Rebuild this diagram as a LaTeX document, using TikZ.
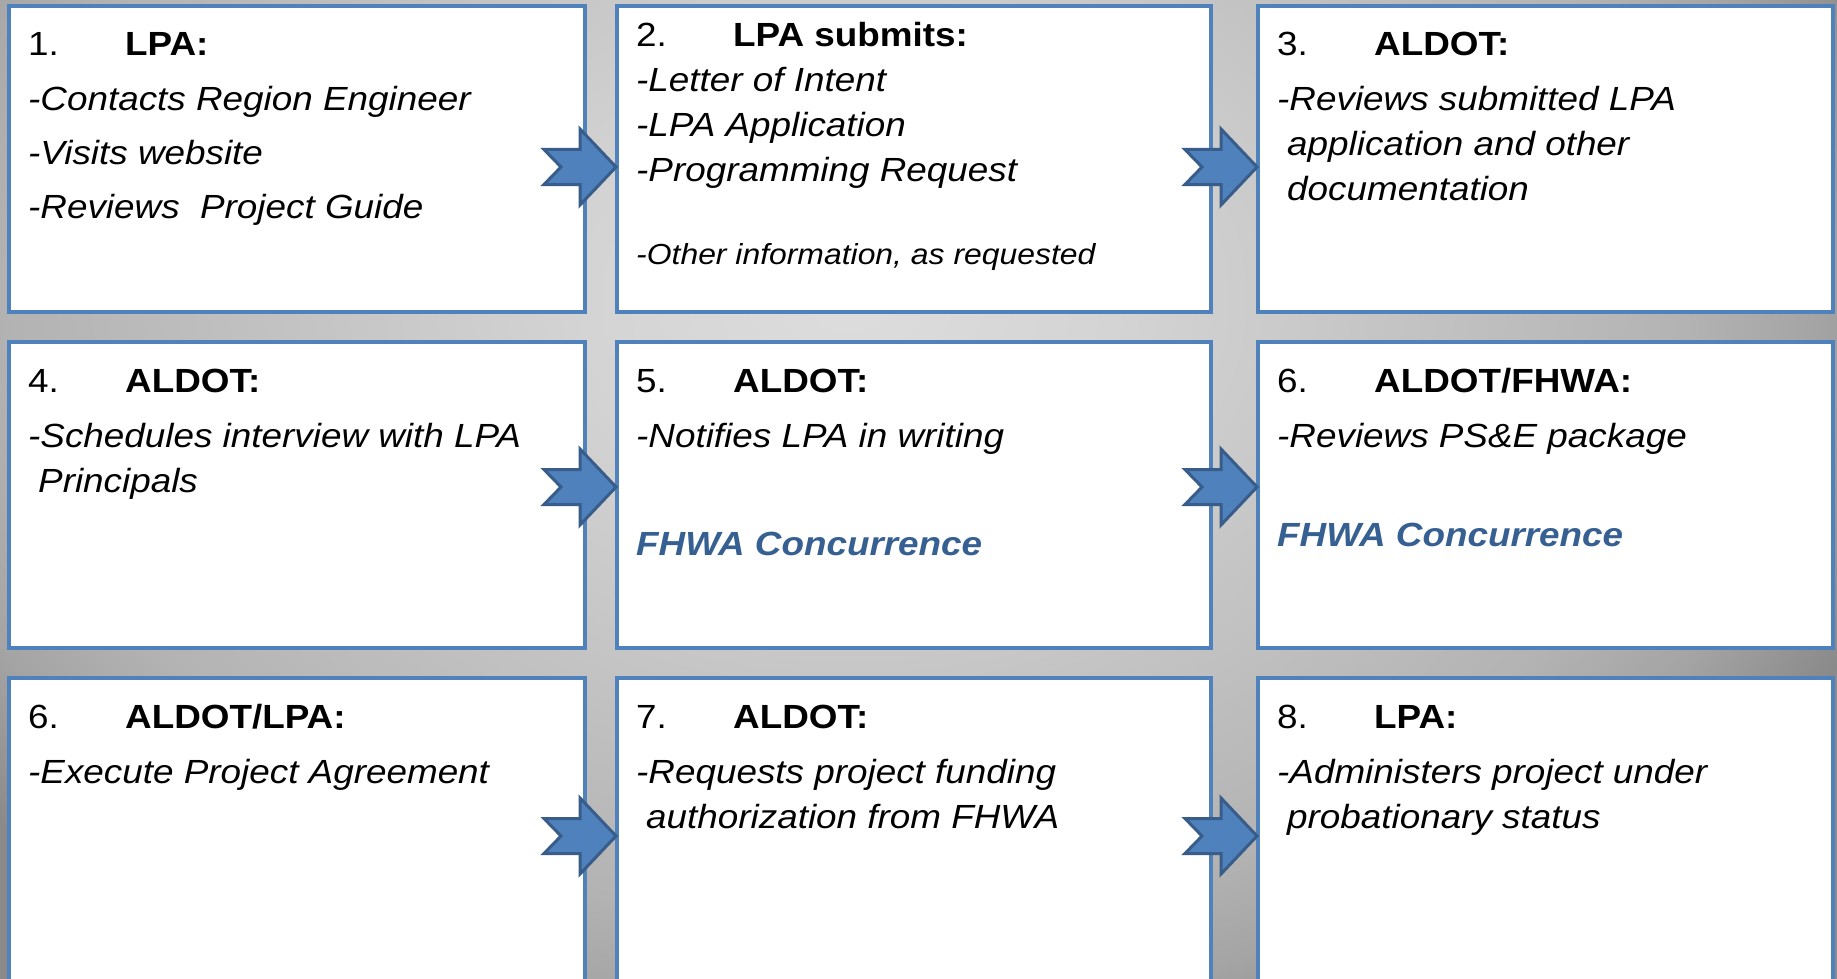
\documentclass[tikz,border=0pt]{standalone}
\usepackage{fontspec}
\setmainfont{Liberation Sans}[FakeStretch=1.1]
\usetikzlibrary{calc}
\definecolor{boxblue}{HTML}{4F81BD}
\definecolor{arrowedge}{HTML}{385D8A}
\definecolor{fhwablue}{HTML}{376092}
\definecolor{bgA}{HTML}{DDDDDD}
\definecolor{bgB}{HTML}{D4D4D4}
\definecolor{bgC}{HTML}{CACACA}
\definecolor{bgD}{HTML}{B3B3B3}
\definecolor{bgE}{HTML}{A4A4A4}
\definecolor{bgF}{HTML}{8A8A8A}
\pgfdeclareradialshading{bgglow}{\pgfpoint{0bp}{0bp}}{color(0bp)=(bgA); color(6bp)=(bgB); color(10bp)=(bgC); color(19bp)=(bgD); color(22bp)=(bgE); color(25bp)=(bgF); color(50bp)=(bgF)}
\newcommand{\stepfont}{\fontsize{33.5pt}{45pt}\selectfont}
\newcommand{\stephead}[2]{\makebox[97pt][l]{#1}\textbf{#2}}
\newcommand{\fhwa}{\textcolor{fhwablue}{\bfseries\itshape FHWA Concurrence}}
\tikzset{
  stepbox/.style={draw=boxblue, line width=4pt, fill=white, minimum width=#1, minimum height=306pt, inner sep=0pt},
  steptext/.style={anchor=base west, inner sep=0pt, font=\stepfont},
  notcharrow/.pic={
    \draw[fill=boxblue, draw=arrowedge, line width=3pt] (0,0) -- (-36,-38) -- (-36,-17.5) -- (-72,-17.5)
      -- (-55,0) -- (-72,17.5) -- (-36,17.5) -- (-36,38) -- cycle;}
}
\begin{document}
\begin{tikzpicture}[x=1pt, y=-1pt]
  \useasboundingbox (0,0) rectangle (1837,979);
  % background
  \begin{scope}
    \clip (0,0) rectangle (1837,979);
    \shade[shading=bgglow] (-250,-520) rectangle (1950,1120);
  \end{scope}
  % boxes
  \node[stepbox=576pt] (box1) at (297,159) {};
  \node[stepbox=594pt] (box2) at (914,159) {};
  \node[stepbox=575pt] (box3) at (1545.5,159) {};
  \node[stepbox=576pt] (box4) at (297,495) {};
  \node[stepbox=594pt] (box5) at (914,495) {};
  \node[stepbox=575pt] (box6) at (1545.5,495) {};
  \node[stepbox=576pt] (box7) at (297,831) {};
  \node[stepbox=594pt] (box8) at (914,831) {};
  \node[stepbox=575pt] (box9) at (1545.5,831) {};
  % texts
  \node[steptext] (txt1) at ($(box1.north west)+(21,52)$) {\parbox[t]{540pt}{\stephead{1.}{LPA:}\\[10pt]\itshape
    -Contacts Region Engineer\\[9pt] -Visits website\\[9pt] -Reviews\ \ Project Guide}};
  \node[steptext] (txt2) at ($(box2.north west)+(21,43)$) {\parbox[t]{560pt}{\stephead{2.}{LPA submits:}\\\itshape
    -Letter of Intent\\ -LPA Application\\ -Programming Request\\[38pt]
    {\fontsize{29pt}{45pt}\selectfont -Other information, as requested}}};
  \node[steptext] (txt3) at ($(box3.north west)+(21,52)$) {\parbox[t]{540pt}{\stephead{3.}{ALDOT:}\\[10pt]\itshape
    -Reviews submitted LPA\\ \hspace*{10pt}application and other\\ \hspace*{10pt}documentation}};
  \node[steptext] (txt4) at ($(box4.north west)+(21,52)$) {\parbox[t]{540pt}{\stephead{4.}{ALDOT:}\\[10pt]\itshape
    -Schedules interview with LPA\\ \hspace*{10pt}Principals}};
  \node[steptext] (txt5) at ($(box5.north west)+(21,52)$) {\parbox[t]{560pt}{\stephead{5.}{ALDOT:}\\[10pt]\itshape
    -Notifies LPA in writing\\[63pt] \fhwa}};
  \node[steptext] (txt6) at ($(box6.north west)+(21,52)$) {\parbox[t]{540pt}{\stephead{6.}{ALDOT/FHWA:}\\[10pt]\itshape
    -Reviews PS\&E package\\[54pt] \fhwa}};
  \node[steptext] (txt7) at ($(box7.north west)+(21,52)$) {\parbox[t]{540pt}{\stephead{6.}{ALDOT/LPA:}\\[10pt]\itshape
    -Execute Project Agreement}};
  \node[steptext] (txt8) at ($(box8.north west)+(21,52)$) {\parbox[t]{560pt}{\stephead{7.}{ALDOT:}\\[10pt]\itshape
    -Requests project funding\\ \hspace*{10pt}authorization from FHWA}};
  \node[steptext] (txt9) at ($(box9.north west)+(21,52)$) {\parbox[t]{540pt}{\stephead{8.}{LPA:}\\[10pt]\itshape
    -Administers project under\\ \hspace*{10pt}probationary status}};
  % arrows
  \pic at ($(box2.west)+(1,8)$) {notcharrow};
  \pic at ($(box3.west)+(1,8)$) {notcharrow};
  \pic at ($(box5.west)+(1,-8)$) {notcharrow};
  \pic at ($(box6.west)+(1,-8)$) {notcharrow};
  \pic at ($(box8.west)+(1,5)$) {notcharrow};
  \pic at ($(box9.west)+(1,5)$) {notcharrow};
\end{tikzpicture}
\end{document}
